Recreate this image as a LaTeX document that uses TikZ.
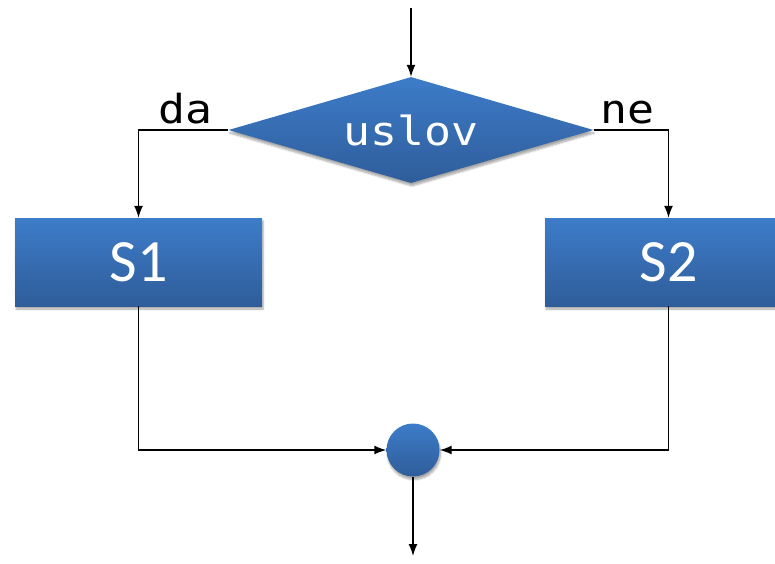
\documentclass[tikz,border=0pt]{standalone}
\usepackage{fontspec}
\setmainfont{Carlito}
\newfontfamily\monofont[FakeStretch=1.12]{DejaVu Sans Mono}
\usepackage{tikz}
\usetikzlibrary{shapes.geometric}
\usetikzlibrary{arrows.meta}
\usetikzlibrary{shadows.blur}
\usetikzlibrary{positioning}

\definecolor{blueTop}{HTML}{3D7CC9}
\definecolor{blueBot}{HTML}{2F5D9A}

\begin{document}
\begin{tikzpicture}
    [x=1pt, y=-1pt,
     blk/.style={top color=blueTop, bottom color=blueBot, text=white,
       blur shadow={shadow xshift=1pt, shadow yshift=-3pt, shadow blur steps=6, shadow opacity=35}},
     lbl/.style={font=\monofont\fontsize{40}{42}\selectfont, anchor=base, inner sep=0pt},
     flow/.style={line width=1.4pt, -{Latex[length=12pt, width=9pt]}}]
    \useasboundingbox (0, 0) rectangle (775, 563);

    \coordinate (in) at (411, 8);
    \node (cond) [blk, diamond, aspect=3.44, minimum width=365pt, minimum height=106pt,
      inner sep=0pt, font=\monofont\fontsize{40}{42}\selectfont] at (411, 130) {uslov};

    \node (s1) [blk, rectangle, minimum width=247pt, minimum height=88pt,
      font=\fontsize{60}{62}\selectfont] at (138.5, 262) {S1};
    \node (s2) [blk, rectangle, minimum width=247pt, minimum height=88pt,
      font=\fontsize{60}{62}\selectfont] at (668.5, 262) {S2};

    \node (join) [blk, circle, minimum size=53pt, inner sep=0pt] at (413, 450) {};
    \coordinate (out) at (413, 556);

    \node (yes) [lbl] at (185, 123) {da};
    \node (no) [lbl] at (627.5, 123) {ne};

    \draw [flow] (in) -- (cond.north);
    \draw [flow] (cond.west) -| (s1.north);
    \draw [flow] (cond.east) -| (s2.north);
    \draw [flow] (s1.south) |- (join.west);
    \draw [flow] (s2.south) |- (join.east);
    \draw [flow] (join.south) -- (out);
  \end{tikzpicture}
\end{document}
